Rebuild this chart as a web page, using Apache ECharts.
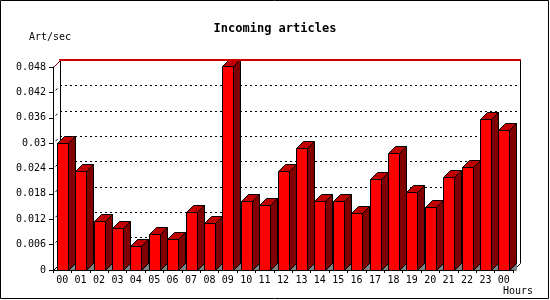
<!DOCTYPE html>
<html>
<head>
<meta charset="utf-8">
<script src="https://cdn.jsdelivr.net/npm/echarts@6/dist/echarts.min.js"></script>
<style>html,body{margin:0;padding:0;background:#fff}#c{width:550px;height:300px}</style>
</head>
<body>
<div id="c"></div>
<script>
var hours = ['00','01','02','03','04','05','06','07','08','09','10','11','12','13','14','15','16','17','18','19','20','21','22','23','00'];
var articles = [0.0300,0.0234,0.0116,0.0099,0.0056,0.0084,0.0073,0.0137,0.0110,0.0482,0.0162,0.0153,0.0233,0.0288,0.0164,0.0164,0.0134,0.0216,0.0277,0.0184,0.0150,0.0221,0.0243,0.0356,0.0331];
var yTicks = [0,0.006,0.012,0.018,0.024,0.03,0.036,0.042,0.048];

var FONT = 'DejaVu Sans Mono';
var D = 7;      // depth offset
var BW = 11;    // bar front width

var chart = echarts.init(document.getElementById('c'), null, {renderer:'canvas'});

function r(v){ return Math.round(v) + 0.5; }

var barData = articles.map(function(v,i){ return [i, v]; });

var option = {
  animation: false,
  backgroundColor: '#fff',
  title: [{
    text: 'Incoming articles', left: 'center', top: 18,
    textStyle: {fontFamily: FONT, fontWeight: 'bold', fontSize: 12, color: '#000'}
  }, {
    text: 'Hours', left: 503, top: 286, padding: 0,
    textStyle: {fontFamily: FONT, fontWeight: 'normal', fontSize: 10, color: '#000'}
  }, {
    text: 'Art/sec', left: 29, top: 32, padding: 0,
    textStyle: {fontFamily: FONT, fontWeight: 'normal', fontSize: 10, color: '#000'}
  }],
  graphic: [{
    type: 'rect', shape: {x: 0.5, y: 0.5, width: 548, height: 298},
    style: {fill: null, stroke: '#000', lineWidth: 1}, silent: true, z: 100
  }],
  grid: [
    {left: 53, top: 67, width: 460, height: 203},
    {left: 60, top: 60, width: 460, height: 203}
  ],
  xAxis: [{
    type: 'category', gridIndex: 0, data: hours, boundaryGap: true,
    axisLine: {onZero: false, lineStyle: {color: '#000', width: 1}},
    axisTick: {show: true, length: 3, alignWithLabel: false, lineStyle: {color: '#000'}},
    axisLabel: {interval: 0, margin: 5, fontFamily: FONT, fontSize: 10, color: '#000'},
    splitLine: {show: false}, z: 10
  }, {
    type: 'category', gridIndex: 1, data: hours, position: 'top',
    axisLine: {show: true, onZero: false, lineStyle: {color: '#cc0000', width: 2}},
    axisTick: {show: false}, axisLabel: {show: false}, splitLine: {show: false}, z: 20
  }],
  yAxis: [{
    type: 'value', gridIndex: 0, min: 0, max: 0.048, interval: 0.006,
    axisLine: {show: true, lineStyle: {color: '#000', width: 1}},
    axisTick: {show: true, length: 4, lineStyle: {color: '#000'}},
    axisLabel: {margin: 7, fontFamily: FONT, fontSize: 10, color: '#000',
      formatter: function(v){ return String(parseFloat(v.toFixed(3))); }},
    splitLine: {show: false}, z: 10
  }, {
    type: 'value', gridIndex: 1, min: 0, max: 0.048, interval: 0.006,
    axisLine: {show: true, lineStyle: {color: '#000', width: 1}},
    axisTick: {show: false}, axisLabel: {show: false},
    splitLine: {show: true, lineStyle: {color: '#000', type: [2,3], width: 1}}
  }, {
    type: 'value', gridIndex: 1, min: 0, max: 0.048, interval: 0.006, position: 'right',
    axisLine: {show: true, lineStyle: {color: '#000', width: 1}},
    axisTick: {show: false}, axisLabel: {show: false}, splitLine: {show: false}
  }],
  series: [{
    type: 'custom', xAxisIndex: 0, yAxisIndex: 0, data: [[0]], z: 3,
    renderItem: function(params, api){
      var sz = api.size([1, 0]);
      var first = api.coord([0, 0.048]);
      var last = api.coord([hours.length - 1, 0]);
      var xl = Math.round(first[0] - sz[0]/2) + 0.5, yt = Math.round(first[1]) + 0.5;
      var xr = Math.round(last[0] + sz[0]/2) + 0.5, yb = Math.round(last[1]) + 0.5;
      var ch = [];
      ch.push({type:'line', shape:{x1:xl, y1:yt, x2:xl+D, y2:yt-D}, style:{stroke:'#880000', lineWidth:1}});
      ch.push({type:'line', shape:{x1:xl, y1:yb, x2:xl+D, y2:yb-D}, style:{stroke:'#000', lineWidth:1}});
      ch.push({type:'line', shape:{x1:xr, y1:yb, x2:xr+D, y2:yb-D}, style:{stroke:'#000', lineWidth:1}});
      for (var k = 1; k < yTicks.length - 1; k++) {
        var p = api.coord([0, yTicks[k]]);
        ch.push({type:'line', shape:{x1:xl+2, y1:p[1]-2, x2:xl+4, y2:p[1]-4}, style:{stroke:'#000', lineWidth:1}});
      }
      return {type:'group', children: ch};
    }
  }, {
    type: 'custom', xAxisIndex: 0, yAxisIndex: 0, data: barData, z: 5,
    renderItem: function(params, api){
      var c = api.coord([api.value(0), api.value(1)]);
      var b = api.coord([api.value(0), 0]);
      var x0 = r(c[0] - BW/2), x1 = x0 + BW;
      var yt = r(c[1]), yb = r(b[1]);
      var st = {stroke:'#000', lineWidth:1};
      return {type:'group', children:[
        {type:'polygon', shape:{points:[[x1,yb],[x1+D,yb-D],[x1+D,yb]]}, style:{fill:'#808080', stroke:'#808080', lineWidth:1}},
        {type:'polygon', shape:{points:[[x1,yt],[x1+D,yt-D],[x1+D,yb-D],[x1,yb]]}, style:Object.assign({fill:'#800000'}, st)},
        {type:'polygon', shape:{points:[[x0,yt],[x0+D,yt-D],[x1+D,yt-D],[x1,yt]]}, style:Object.assign({fill:'#c00000'}, st)},
        {type:'rect', shape:{x:x0, y:yt, width:BW, height:yb-yt}, style:Object.assign({fill:'#ff0000'}, st)}
      ]};
    }
  }]
};
chart.setOption(option);
</script>
</body>
</html>
